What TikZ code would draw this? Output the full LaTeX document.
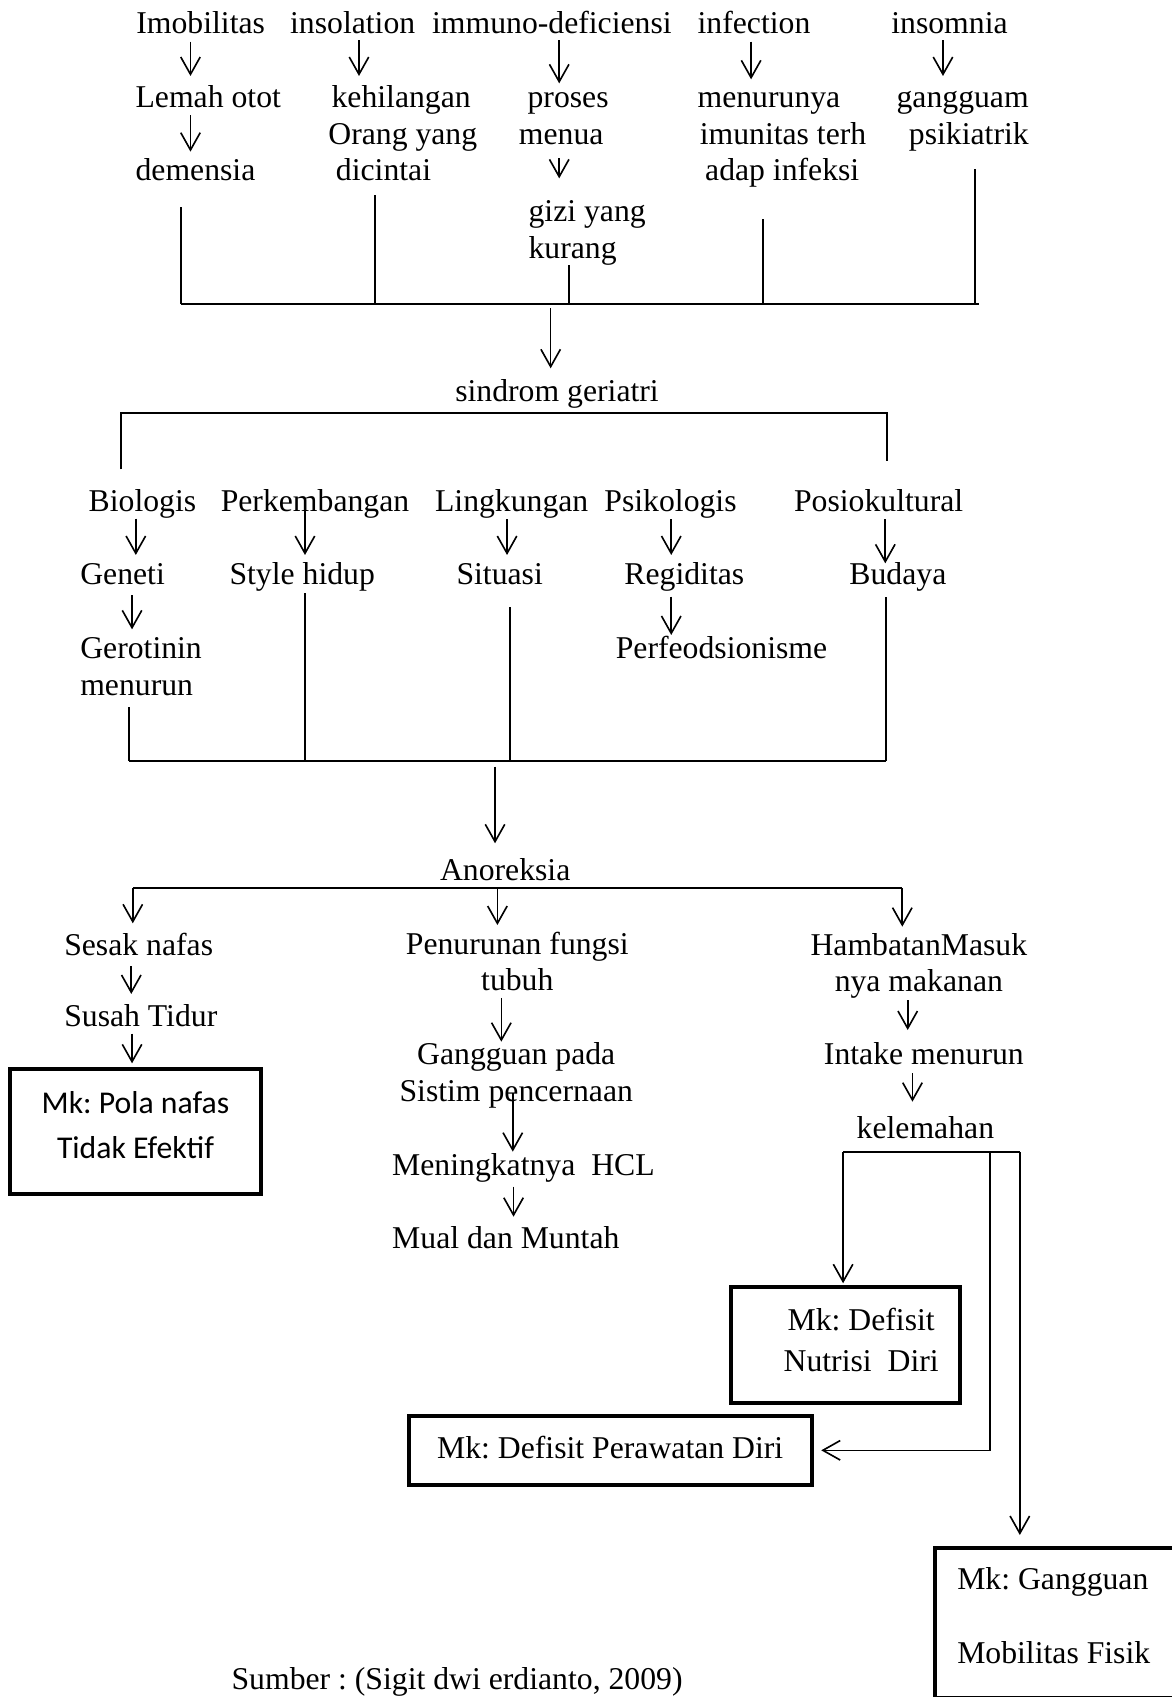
\documentclass[tikz,border=0pt]{standalone}
\usepackage{fontspec}
\setmainfont{Liberation Serif}
\newfontfamily\calib{Carlito}
\usetikzlibrary{arrows.meta}
\begin{document}
\frenchspacing
\begin{tikzpicture}[x=1pt,y=-1pt,
  t/.style={font=\fontsize{29.3}{34}\selectfont\frenchspacing, inner sep=0pt, outer sep=0pt, anchor=base west, text height=20pt, text depth=6.4pt},
  ln/.style={line width=1.8pt},
  arr/.style={line width=1.5pt, -{Straight Barb[length=16pt,width=18pt]}},
  bx/.style={draw, line width=3.7pt, inner sep=0pt, outer sep=0pt, font=\fontsize{29.3}{34}\selectfont\frenchspacing}]
\fill[white] (0,0) rectangle (1082,1568);
\useasboundingbox (0,0) rectangle (1082,1568);

% ---------- row 1 ----------
\node[t] (imob) at (126,30.8) {Imobilitas};
\node[t] (insol) at (268.1,30.8) {insolation};
\node[t] (immuno) at (399.3,30.8) {immuno-deficiensi};
\node[t] (infec) at (644.6,30.8) {infection};
\node[t] (insom) at (823.6,30.8) {insomnia};
\node[t] (lemah) at (125.3,99.2) {Lemah otot};
\node[t] (dem) at (125.3,167.2) {demensia};
\node[t,align=left,text height=88pt] (kehil) at (303.4,167.2) {\hspace*{3pt}kehilangan\\Orang yang\\\hspace*{7pt}dicintai};
\node[t,align=left,text height=54pt] (proses) at (479.5,133.2) {\hspace*{8pt}proses\\menua};
\node[t,align=left,text height=54pt] (gizi) at (488.4,238.8) {gizi yang\\kurang};
\node[t,align=left,text height=88pt] (menur) at (644.6,167.2) {menurunya\\\hspace*{2pt}imunitas terh\\\hspace*{7pt}adap infeksi};
\node[t,align=right,anchor=base east,text height=54pt] (gangg) at (950.5,133.2) {gangguam\\psikiatrik};

\draw[arr,shorten <=1.3pt,shorten >=9pt] (imob.south -| 176,0) -- (lemah.north -| 176,0);
\draw[arr,shorten <=0.7pt,shorten >=7.1pt] (lemah.south -| 176,0) -- (dem.north -| 176,0);
\draw[arr,shorten >=9pt] (insol.south -| 331.7,0) -- (kehil.north -| 331.7,0);
\draw[arr,shorten >=2.2pt] (immuno.south -| 516.7,0) -- (proses.north -| 516.7,0);
\draw[arr,shorten <=6.7pt,shorten >=20pt] (proses.south -| 516.7,0) -- (gizi.north -| 516.7,0);
\draw[arr,shorten <=1.3pt,shorten >=5.9pt] (infec.south -| 694,0) -- (menur.north -| 694,0);
\draw[arr,shorten >=9pt] (insom.south -| 871.3,0) -- (gangg.north -| 871.3,0);

\coordinate (b1L) at (167,281);
\coordinate (b1R) at (904.3,281);
\draw[ln] (b1L) -- (b1R);
\draw[ln,shorten <=18pt] (dem.south -| b1L) -- (b1L);
\draw[ln,shorten <=6.6pt] (kehil.south -| 346.2,0) -- (346.2,0 |- b1L);
\draw[ln] (gizi.south -| 525.5,0) -- (525.5,0 |- b1L);
\draw[ln,shorten <=29.1pt] (menur.south -| 704.8,0) -- (704.8,0 |- b1L);
\draw[ln,shorten <=16.9pt] (gangg.south -| 901,0) -- (901,0 |- b1L);

% ---------- sindrom geriatri ----------
\node[t] (sind) at (420.7,371.1) {sindrom geriatri};
\draw[arr,shorten <=3.9pt,shorten >=10.8pt] (508.8,0 |- b1L) -- (sind.north -| 508.8,0);
\coordinate (b2L) at (112.1,382);
\coordinate (b2R) at (819.7,382);
\coordinate (d2L) at (112.1,433.6);
\coordinate (d2R) at (819.7,425.7);
\draw[ln] (d2L) -- (b2L) -- (b2R) -- (d2R);

% ---------- factors ----------
\node[t] (bio) at (82,472.8) {Biologis};
\node[t] (perk) at (204,472.8) {Perkembangan};
\node[t] (ling) at (402,472.8) {Lingkungan};
\node[t] (psik) at (558.5,472.8) {Psikologis};
\node[t] (posio) at (733.7,472.8) {Posiokultural};
\node[t] (gen) at (74.2,540.5) {Geneti};
\node[t] (style) at (212.1,540.5) {Style hidup};
\node[t] (sit) at (421.8,540.5) {Situasi};
\node[t] (reg) at (577,540.5) {Regiditas};
\node[t] (bud) at (784.9,540.5) {Budaya};
\node[t,align=left,text height=54pt] (gero) at (74.2,642.3) {Gerotinin\\menurun};
\node[t] (perf) at (569,608.3) {Perfeodsionisme};

\draw[arr,shorten >=7.7pt] (bio.south -| 125.5,0) -- (gen.north -| 125.5,0);
\draw[arr,shorten >=7.7pt] (perk.center -| 281.8,0) -- (style.north -| 281.8,0);
\draw[arr,shorten <=0.7pt,shorten >=7.7pt] (ling.south -| 468.5,0) -- (sit.north -| 468.5,0);
\draw[arr,shorten <=0.7pt,shorten >=7.7pt] (psik.south -| 620.2,0) -- (reg.north -| 620.2,0);
\draw[arr,shorten <=0.6pt] (posio.south -| 818,0) -- (bud.north -| 818,0);
\draw[arr,shorten <=2.9pt,shorten >=6.8pt] (gen.south -| 122,0) -- (gero.north -| 122,0);
\draw[arr,shorten <=4.4pt,shorten >=1.6pt] (reg.south -| 620.2,0) -- (perf.north -| 620.2,0);

\coordinate (b3L) at (119.2,702.8);
\coordinate (b3R) at (818.6,702.8);
\draw[ln] (b3L) -- (b3R);
\draw[ln,shorten <=4.8pt] (gero.south -| b3L) -- (b3L);
\draw[ln,shorten <=1.3pt] (style.south -| 281.8,0) -- (281.8,0 |- b3L);
\draw[ln,shorten <=14.3pt] (sit.south -| 471,0) -- (471,0 |- b3L);
\draw[ln,shorten <=5pt] (bud.south -| b3R) -- (b3R);

% ---------- Anoreksia ----------
\node[t] (anor) at (406.6,813.1) {Anoreksia};
\draw[arr,shorten <=5.6pt,shorten >=13.9pt] (457.4,0 |- b3L) -- (anor.north -| 457.4,0);
\coordinate (b4L) at (122.7,820.8);
\coordinate (b4R) at (833.7,820.8);
\draw[ln] (b4L) -- (b4R);

% left branch
\node[t] (sesak) at (59.4,882.4) {Sesak nafas};
\node[t] (susah) at (59.4,948.6) {Susah Tidur};
\node[bx, minimum width=232.7pt, minimum height=115.2pt, align=center, font=\calib\fontsize{29.3}{41.6}\selectfont, text height=60.6pt, text depth=11.2pt] (pola) at (125.2,1045.6) {Mk: Pola nafas\\Tidak Efektif};
\draw[arr,shorten >=9.3pt] (b4L) -- (sesak.north -| b4L);
\draw[arr,shorten <=3.8pt,shorten >=10.2pt] (sesak.south -| 121.3,0) -- (susah.north -| 121.3,0);
\draw[arr,shorten >=5.5pt] (susah.south -| 122,0) -- (pola.north -| 122,0);

% middle branch
\node[t,align=center,anchor=base,text height=54pt] (penur) at (478,915.6) {Penurunan fungsi\\tubuh};
\node[t,align=center,anchor=base,text height=54pt] (gangp) at (477,1018) {Gangguan pada\\Sistim pencernaan};
\node[t] (mening) at (362.4,1085.7) {Meningkatnya\ \ HCL};
\node[t] (mual) at (362.4,1153.4) {Mual dan Muntah};
\draw[arr,shorten >=6.9pt] (459.6,0 |- b4L) -- (penur.north -| 459.6,0);
\draw[arr,shorten >=1.5pt] (penur.south -| 463.2,0) -- (gangp.north -| 463.2,0);
\draw[arr,shorten <=16pt,shorten >=1.6pt] (gangp.center -| 473.8,0) -- (mening.north -| 473.8,0);
\draw[arr,shorten <=4.3pt,shorten >=9.2pt] (mening.south -| 474.5,0) -- (mual.north -| 474.5,0);

% right branch
\node[t,align=center,anchor=base,text height=54pt] (hamb) at (849,916.4) {HambatanMasuk\\nya makanan};
\node[t] (intake) at (761.3,984) {Intake menurun};
\node[t] (kelem) at (791.6,1051.8) {kelemahan};
\draw[arr,shorten >=6.2pt] (b4R) -- (hamb.north -| b4R);
\draw[arr,shorten <=1.2pt,shorten >=12.3pt] (hamb.south -| 838.7,0) -- (intake.north -| 838.7,0);
\draw[arr,shorten <=1.3pt,shorten >=13.9pt] (intake.south -| 843.1,0) -- (kelem.north -| 843.1,0);

\node[bx, minimum width=211.4pt, minimum height=107.2pt, align=center, font=\fontsize{29.3}{38.5}\selectfont\frenchspacing, text height=58.5pt, text depth=9.7pt] (nutri) at (781.3,1243) {\hspace*{28.8pt}Mk: Defisit\\\hspace*{28.8pt}Nutrisi\ \ Diri};
\node[bx, minimum width=372.6pt, minimum height=64.1pt, text height=20pt, text depth=5.1pt] (peraw) at (563.8,1340.05) {Mk: Defisit Perawatan Diri};
\node[bx, anchor=north west, text width=185.2pt, align=left, inner xsep=20.3pt, inner ysep=18.5pt, text height=20pt, text depth=80.9pt] (gangbox) at (864.2,1430.6) {\spaceskip=0pt\xspaceskip=0pt\relax Mk: Gangguan\\[33.8pt]Mobilitas Fisik};

\coordinate (kL) at (779,1064.5);
\coordinate (kR) at (942.3,1064.5);
\draw[ln] (kL) -- (kR);
\draw[arr,shorten >=3.7pt] (kL) -- (nutri.north -| kL);
\draw[arr,shorten >=8.7pt] (915,0 |- kL) |- (peraw.east);
\draw[arr,shorten >=12.3pt] (kR) -- (gangbox.north -| kR);

% source
\node[t] (src) at (214,1561.5) {Sumber : (Sigit dwi erdianto, 2009)};
\end{tikzpicture}
\end{document}
